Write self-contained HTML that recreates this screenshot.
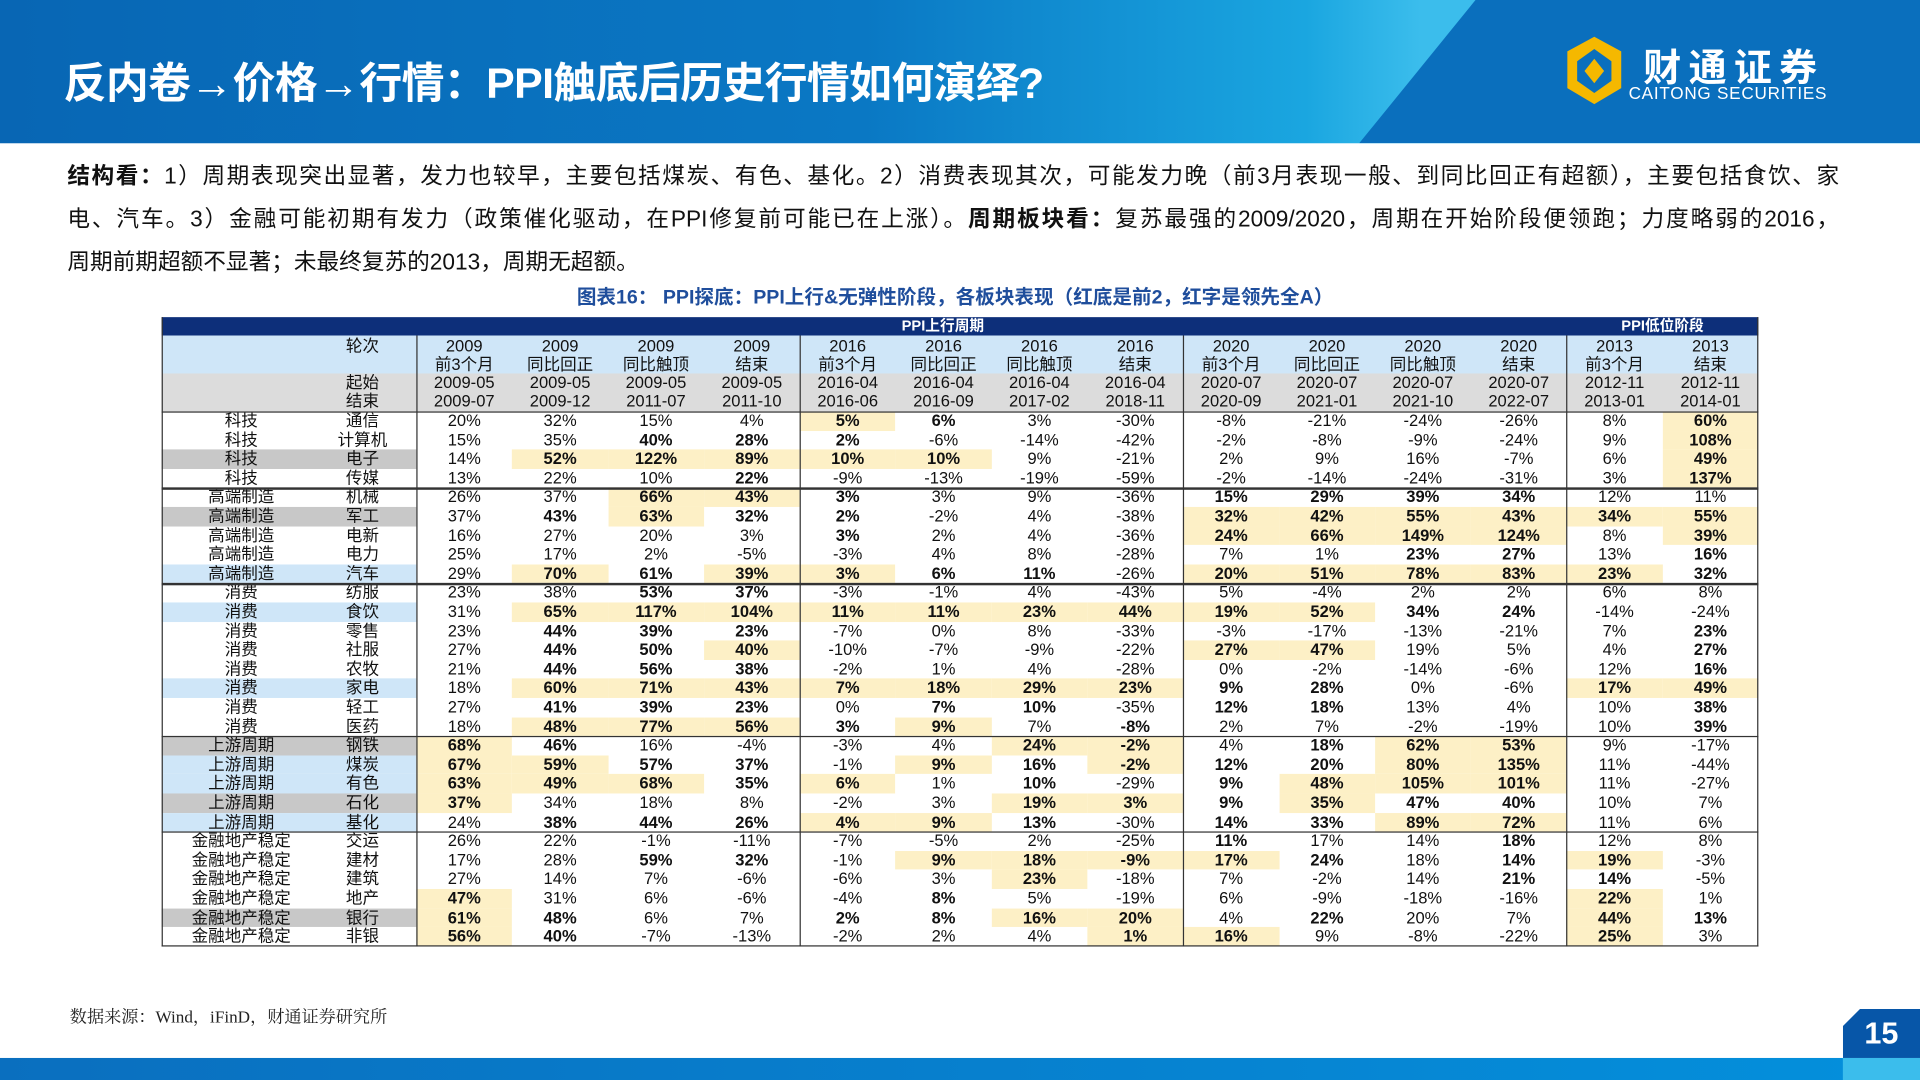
<!DOCTYPE html>
<html><head><meta charset="utf-8">
<style>
html,body{margin:0;padding:0;background:#fff;width:1920px;height:1080px;overflow:hidden}
#stage{position:absolute;left:0;top:0;width:1568px;height:882px;transform:scale(1.22449);transform-origin:0 0;font-family:"Liberation Sans","Noto Sans CJK SC",sans-serif;color:#111}
.abs{position:absolute}
.c{position:absolute;text-align:center;white-space:nowrap;font-size:13.5px;line-height:15.6px}
.ln{position:absolute;left:55px;width:1447px;font-size:18.5px;line-height:35px;height:35px;white-space:nowrap;text-align:justify;text-align-last:justify}
</style></head><body>
<div id="stage">
  <div class="abs" style="left:0;top:0;width:1568px;height:117px;background:linear-gradient(90deg,#0866b4 0%,#0a78c4 45%,#1aa6e0 68%,#3bbdec 74%)"></div>
  <div class="abs" style="left:0;top:0;width:1568px;height:117px;background:#0a6fbd;clip-path:polygon(1205px 0,1568px 0,1568px 117px,1110px 117px)"></div>
  <div class="abs" style="left:52px;top:40px;font-size:35px;font-weight:bold;color:#fff;white-space:nowrap;letter-spacing:-0.5px">反内卷→价格→行情：PPI触底后历史行情如何演绎?</div>
  <div class="abs" style="left:1272px;top:28px;width:240px;height:60px">
    <svg width="60" height="60" viewBox="0 0 60 60"><polygon points="30,2 52,14 52,44 30,57 8,44 8,14" fill="#f5b800"/><polygon points="30,12 44,22 44,38 30,48 16,38 16,22" fill="#0a6fbd"/><polygon points="30,20 38,30 30,40 22,30" fill="#f5b800"/></svg>
    <div class="abs" style="left:70px;top:2px;font-size:31px;font-weight:bold;color:#fff;letter-spacing:6px;white-space:nowrap">财通证券</div>
    <div class="abs" style="left:58px;top:40px;font-size:14px;color:#fff;white-space:nowrap;letter-spacing:0.6px">CAITONG SECURITIES</div>
  </div>
  <div>
    <div class="ln" style="top:126px"><b>结构看：</b>1）周期表现突出显著，发力也较早，主要包括煤炭、有色、基化。2）消费表现其次，可能发力晚（前3月表现一般、到同比回正有超额），主要包括食饮、家</div>
    <div class="ln" style="top:161px">电、汽车。3）金融可能初期有发力（政策催化驱动，在PPI修复前可能已在上涨）。<b>周期板块看：</b>复苏最强的2009/2020，周期在开始阶段便领跑；力度略弱的2016，</div>
    <div class="ln" style="top:196px;text-align:left;text-align-last:left">周期前期超额不显著；未最终复苏的2013，周期无超额。</div>
  </div>
  <div class="abs" style="left:0;width:1560px;top:229px;text-align:center;font-size:16px;font-weight:bold;color:#1f4e9c">图表16： PPI探底：PPI上行&amp;无弹性阶段，各板块表现（红底是前2，红字是领先全A）</div>
  <div class="abs" id="table" style="left:132px;top:259px;width:1304px;height:515px"></div>
  <div class="abs" style="left:57px;top:820px;font-size:14px;font-family:'Liberation Serif','Noto Serif CJK SC',serif;color:#222">数据来源：Wind，iFinD，财通证券研究所</div>
  <div class="abs" style="left:0;top:864px;width:1568px;height:18px;background:linear-gradient(90deg,#0a6fbf,#0490dc)"></div>
  <div class="abs" style="left:1505px;top:864px;width:63px;height:18px;background:#3bbdec"></div>
  <div class="abs" style="left:1505px;top:824px;width:63px;height:40px;background:#0756a8;clip-path:polygon(14px 0,63px 0,63px 40px,0 40px,0 14px);color:#fff;font-weight:bold;font-size:25px;line-height:40px;text-align:center">15</div>
</div>
<script>
const years=["2009","2009","2009","2009","2016","2016","2016","2016","2020","2020","2020","2020","2013","2013"];
const phases=["前3个月","同比回正","同比触顶","结束","前3个月","同比回正","同比触顶","结束","前3个月","同比回正","同比触顶","结束","前3个月","结束"];
const starts=["2009-05","2009-05","2009-05","2009-05","2016-04","2016-04","2016-04","2016-04","2020-07","2020-07","2020-07","2020-07","2012-11","2012-11"];
const ends=["2009-07","2009-12","2011-07","2011-10","2016-06","2016-09","2017-02","2018-11","2020-09","2021-01","2021-10","2022-07","2013-01","2014-01"];
const groups=["科技","科技","科技","科技","高端制造","高端制造","高端制造","高端制造","高端制造","消费","消费","消费","消费","消费","消费","消费","消费","上游周期","上游周期","上游周期","上游周期","上游周期","金融地产稳定","金融地产稳定","金融地产稳定","金融地产稳定","金融地产稳定","金融地产稳定"];
const sectors=["通信","计算机","电子","传媒","机械","军工","电新","电力","汽车","纺服","食饮","零售","社服","农牧","家电","轻工","医药","钢铁","煤炭","有色","石化","基化","交运","建材","建筑","地产","银行","非银"];
const labelShade=["","","g","","","g","","","b","","b","","","","b","","","g","b","b","g","b","","","","","g",""];
// "*" = highlighted (top 2), "!" = bold (beats all-A)
const values=[
["20%","32%","15%","4%","*5%","!6%","3%","-30%","-8%","-21%","-24%","-26%","8%","*60%"],
["15%","35%","!40%","!28%","!2%","-6%","-14%","-42%","-2%","-8%","-9%","-24%","9%","*108%"],
["14%","*52%","*122%","*89%","*10%","*10%","9%","-21%","2%","9%","16%","-7%","6%","*49%"],
["13%","22%","10%","!22%","-9%","-13%","-19%","-59%","-2%","-14%","-24%","-31%","3%","*137%"],
["26%","37%","*66%","*43%","!3%","3%","9%","-36%","!15%","!29%","!39%","!34%","12%","11%"],
["37%","!43%","*63%","!32%","!2%","-2%","4%","-38%","*32%","*42%","*55%","*43%","*34%","*55%"],
["16%","27%","20%","3%","!3%","2%","4%","-36%","*24%","*66%","*149%","*124%","8%","*39%"],
["25%","17%","2%","-5%","-3%","4%","8%","-28%","7%","1%","!23%","!27%","13%","!16%"],
["29%","*70%","!61%","*39%","*3%","!6%","!11%","-26%","*20%","*51%","*78%","*83%","*23%","!32%"],
["23%","38%","!53%","!37%","-3%","-1%","4%","-43%","5%","-4%","2%","2%","6%","8%"],
["31%","*65%","*117%","*104%","*11%","*11%","*23%","*44%","*19%","*52%","!34%","!24%","-14%","-24%"],
["23%","!44%","!39%","!23%","-7%","0%","8%","-33%","-3%","-17%","-13%","-21%","7%","!23%"],
["27%","!44%","!50%","*40%","-10%","-7%","-9%","-22%","*27%","*47%","19%","5%","4%","!27%"],
["21%","!44%","!56%","!38%","-2%","1%","4%","-28%","0%","-2%","-14%","-6%","12%","!16%"],
["18%","*60%","*71%","*43%","*7%","*18%","*29%","*23%","!9%","!28%","0%","-6%","*17%","*49%"],
["27%","!41%","!39%","!23%","0%","!7%","!10%","-35%","!12%","!18%","13%","4%","10%","!38%"],
["18%","*48%","*77%","*56%","!3%","*9%","7%","!-8%","2%","7%","-2%","-19%","10%","!39%"],
["*68%","!46%","16%","-4%","-3%","4%","*24%","*-2%","4%","!18%","*62%","*53%","9%","-17%"],
["*67%","*59%","!57%","!37%","-1%","*9%","!16%","*-2%","!12%","!20%","*80%","*135%","11%","-44%"],
["*63%","*49%","*68%","!35%","*6%","1%","!10%","-29%","!9%","*48%","*105%","*101%","11%","-27%"],
["*37%","34%","18%","8%","-2%","3%","*19%","*3%","!9%","*35%","!47%","!40%","10%","7%"],
["24%","!38%","!44%","!26%","*4%","*9%","!13%","-30%","!14%","!33%","*89%","*72%","11%","6%"],
["26%","22%","-1%","-11%","-7%","-5%","2%","-25%","!11%","17%","14%","!18%","12%","8%"],
["17%","28%","!59%","!32%","-1%","*9%","*18%","*-9%","*17%","!24%","18%","!14%","*19%","-3%"],
["27%","14%","7%","-6%","-6%","3%","*23%","-18%","7%","-2%","14%","!21%","!14%","-5%"],
["*47%","31%","6%","-6%","-4%","!8%","5%","-19%","6%","-9%","-18%","-16%","*22%","1%"],
["*61%","!48%","6%","7%","!2%","!8%","*16%","*20%","4%","!22%","20%","7%","*44%","!13%"],
["*56%","!40%","-7%","-13%","-2%","2%","4%","*1%","*16%","9%","-8%","-22%","*25%","3%"]
];
const bandTitles=["PPI上行周期","PPI低位阶段"];

const T=document.getElementById('table');
const W=1304, X0=208, CW=(W-X0)/years.length, TOPBAND=15, HDR1=31, HDR2=31, RH=15.6;
const dataTop=TOPBAND+HDR1+HDR2;
function box(x,y,w,h,bg){const d=document.createElement('div');d.className='abs';d.style.cssText=`left:${x}px;top:${y}px;width:${w}px;height:${h}px;background:${bg}`;T.appendChild(d);return d;}
function txt(x,y,w,s,extra){const d=document.createElement('div');d.className='c';d.style.cssText=`left:${x}px;top:${y}px;width:${w}px;${extra||''}`;d.textContent=s;T.appendChild(d);return d;}
let b=box(0,0,W,TOPBAND,'#0d2f7a');


let t1=txt(538,0,200,bandTitles[0],'color:#fff;font-weight:bold;font-size:12px;line-height:15px');


let t2=txt(X0+CW*12,0,CW*2,bandTitles[1],'color:#fff;font-weight:bold;font-size:12px;line-height:15px');


let h1=box(0,TOPBAND,W,HDR1,'#cfe6f8');


let h2=box(0,TOPBAND+HDR1,W,HDR2,'#dcdcdc');


let lr=txt(120,TOPBAND+1,88,'轮次');


let ls=txt(120,TOPBAND+HDR1,88,'起始');


let le=txt(120,TOPBAND+HDR1+15,88,'结束');


years.forEach((y,i)=>{
  const x=X0+i*CW;
  let a=txt(x,TOPBAND+1,CW,y);
  
  
  let p=txt(x,TOPBAND+16,CW,phases[i]);
  
  
  let s=txt(x,TOPBAND+HDR1,CW,starts[i]);
  
  
  let e=txt(x,TOPBAND+HDR1+15,CW,ends[i]);
  
  
});
sectors.forEach((s,r)=>{
  const y=dataTop+r*RH;
  if(labelShade[r]){
    let sh=box(0,y,X0,RH,labelShade[r]==='g'?'#c8c8c8':'#cfe6f8');
    
    
  }
  let g=txt(0,y,130,groups[r]);
  
  
  let sl=txt(120,y,88,s);
  
  
  values[r].forEach((v,c)=>{
    const x=X0+c*CW;
    let hl=v[0]==='*', bold=hl||v[0]==='!';
    const val=(v[0]==='*'||v[0]==='!')?v.slice(1):v;
    if(hl){
      let hb=box(x,y,CW,RH,'#fdf0c6');
      
      
    }
    let cell=txt(x,y,CW,val,bold?'font-weight:bold':'');
    
    
  });
});
const H=dataTop+sectors.length*RH;
function line(x,y,w,h){const d=box(x,y,w,h,'#333');}
line(0,0,1,H);line(W-1,0,1,H);line(0,H-1,W,1.2);
line(0,dataTop,W,1.2);
[X0,X0+4*CW,X0+8*CW,X0+12*CW].forEach(x=>line(x,TOPBAND,1,H-TOPBAND));
for(let r=1;r<groups.length;r++){ if(groups[r]!==groups[r-1]) line(0,dataTop+r*RH,W,1.2); }
</script>
</body></html>
